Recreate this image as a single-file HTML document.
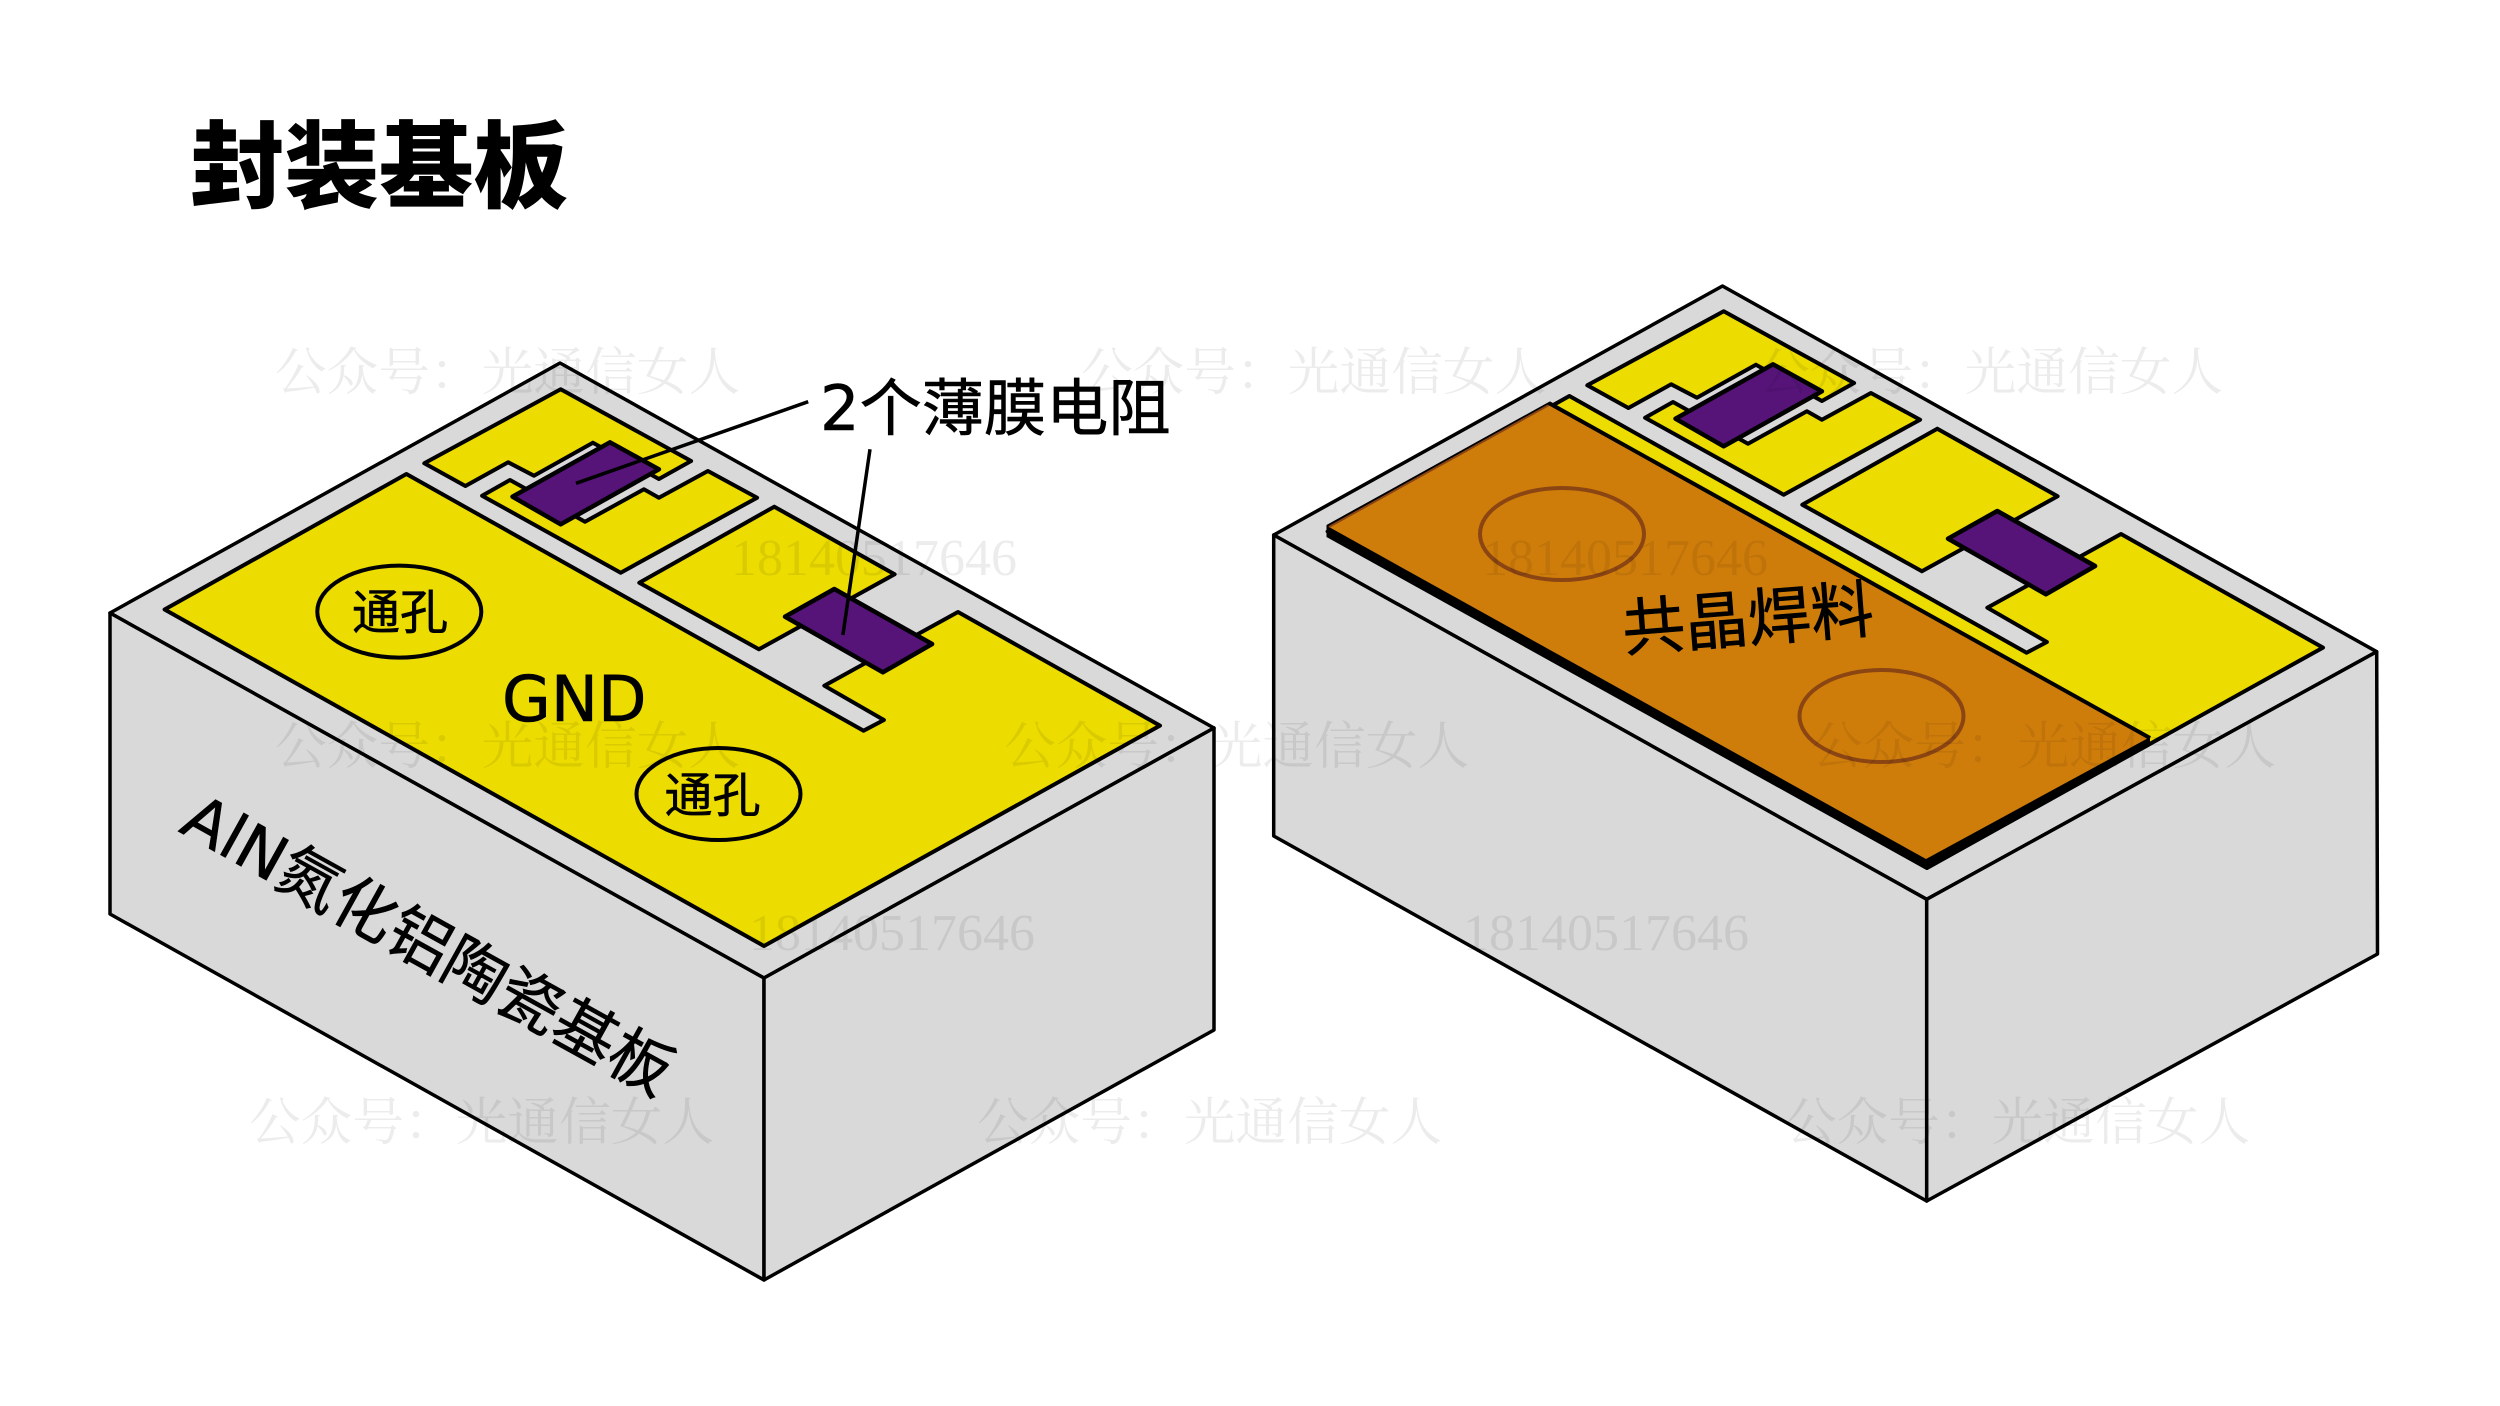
<!DOCTYPE html>
<html><head><meta charset="utf-8"><style>
html,body{margin:0;padding:0;background:#fff;width:2500px;height:1406px;overflow:hidden}
svg{display:block}
.no{font-family:"Noto Sans CJK SC",sans-serif}
.wq{font-family:"DejaVu Sans","Noto Sans CJK SC",sans-serif;stroke:#000;stroke-width:.6}
.wm{font-family:"Noto Serif CJK SC",serif;font-size:51.7px;fill:#000;fill-opacity:.075}
.wn{font-family:"Liberation Serif",serif;font-size:52px;fill:#000;fill-opacity:.075}
</style></head><body>
<svg xmlns="http://www.w3.org/2000/svg" xmlns:xlink="http://www.w3.org/1999/xlink" width="2500" height="1406" viewBox="0 0 2500 1406">
<defs>
<g id="pads" stroke="#000" stroke-width="4" stroke-linejoin="round">
<polygon fill="#ecdc00" points="406.4,474 164.6,609.5 764,946 1160,725.6 958,612 824.3,685.7 883.9,720 863.6,730.7"/>
<polygon fill="#ecdc00" points="774.3,506.7 894.6,574.3 758.9,649.3 639.3,582.7"/>
<polygon fill="#ecdc00" points="560.7,389.3 691.1,461 658.9,479 592.9,442.7 533.9,475.7 508.2,462.3 465.4,486 424.3,463.3"/>
<polygon fill="#ecdc00" points="707.9,471 757.1,497.7 620.7,572.7 482.1,495.7 510,480 585,521.7 643.9,489.3 658.9,497.7"/>
<polygon fill="#561479" stroke-width="4.5" points="610,442.3 658.9,469.3 560.7,524.3 512.5,496.7"/>
<polygon fill="#561479" stroke-width="4.5" points="834.3,589 932.1,644 882.9,672.3 785,616.7"/>
</g>
</defs>

<!-- left block -->
<g stroke="#000" stroke-width="3.5" stroke-linejoin="round" fill="#d9d9d9">
<polygon points="560,363 110,613 764,978 1214,728"/>
<polygon points="110,613 764,978 764,1280 110,914"/>
<polygon points="764,978 1214,728 1214,1030 764,1280"/>
</g>
<use xlink:href="#pads" href="#pads"/>
<g fill="none" stroke="#000" stroke-width="4">
<ellipse cx="399.3" cy="611.6" rx="82" ry="46"/>
<ellipse cx="718.5" cy="794" rx="82" ry="46"/>
</g>
<g stroke="#000" stroke-width="3.5" fill="none">
<line x1="808.2" y1="401.7" x2="576" y2="483.3"/>
<line x1="870" y1="449.3" x2="842.9" y2="635"/>
</g>

<!-- right block -->
<g stroke="#000" stroke-width="3.5" stroke-linejoin="round" fill="#d9d9d9">
<polygon points="1722.5,286 1273.7,535 1926.7,899.3 2376.7,651.7"/>
<polygon points="1273.7,535 1926.7,899.3 1926.7,1201 1273.7,836"/>
<polygon points="1926.7,899.3 2376.7,651.7 2377.5,954 1926.7,1201"/>
</g>
<use xlink:href="#pads" href="#pads" transform="translate(1163,-78)"/>
<polygon fill="#000" points="1548.8,402 1326.5,525 1326.5,537 1926.6,870 2150,746 2150,737"/>
<polygon fill="#cf7d0a" points="1548.8,405 1329,527 1926,859 2148.3,738"/>
<line x1="1549" y1="405" x2="1329" y2="527" stroke="#8b4513" stroke-width="2"/>
<line x1="1548.8" y1="403" x2="2150" y2="738" stroke="#000" stroke-width="4"/>
<g fill="none" stroke="#8b4513" stroke-width="4">
<ellipse cx="1562" cy="534" rx="82" ry="46"/>
<ellipse cx="1881.5" cy="716" rx="82" ry="46"/>
</g>

<!-- labels -->
<text class="no" x="190" y="200" font-size="94.5" font-weight="900" fill="#000">封装基板</text>
<text class="wq" x="820" y="430" font-size="62.2" fill="#000">2个薄膜电阻</text>
<text class="wq" x="352" y="629" font-size="48" fill="#000">通孔</text>
<text class="wq" x="664.5" y="812" font-size="48" fill="#000">通孔</text>
<text class="wq" x="502" y="721" font-size="63" fill="#000">GND</text>
<text class="wq" transform="translate(177.5,831) rotate(29)" font-size="63" fill="#000">AlN氮化铝陶瓷基板</text>
<text class="wq" transform="translate(1624,651) rotate(-4.5)" font-size="63" fill="#000">共晶焊料</text>

<!-- watermarks -->
<text class="wm" x="275" y="390">公众号：光通信女人</text>
<text class="wm" x="1081" y="390">公众号：光通信女人</text>
<text class="wm" x="1758" y="390">公众号：光通信女人</text>
<text class="wm" x="275" y="764">公众号：光通信女人</text>
<text class="wm" x="1004" y="764">公众号：光通信女人</text>
<text class="wm" x="1811" y="764">公众号：光通信女人</text>
<text class="wm" x="249" y="1140">公众号：光通信女人</text>
<text class="wm" x="977" y="1140">公众号：光通信女人</text>
<text class="wm" x="1785" y="1140">公众号：光通信女人</text>
<text class="wn" x="731" y="575">18140517646</text>
<text class="wn" x="1482" y="575">18140517646</text>
<text class="wn" x="749" y="950">18140517646</text>
<text class="wn" x="1463" y="950">18140517646</text>
</svg>
</body></html>
